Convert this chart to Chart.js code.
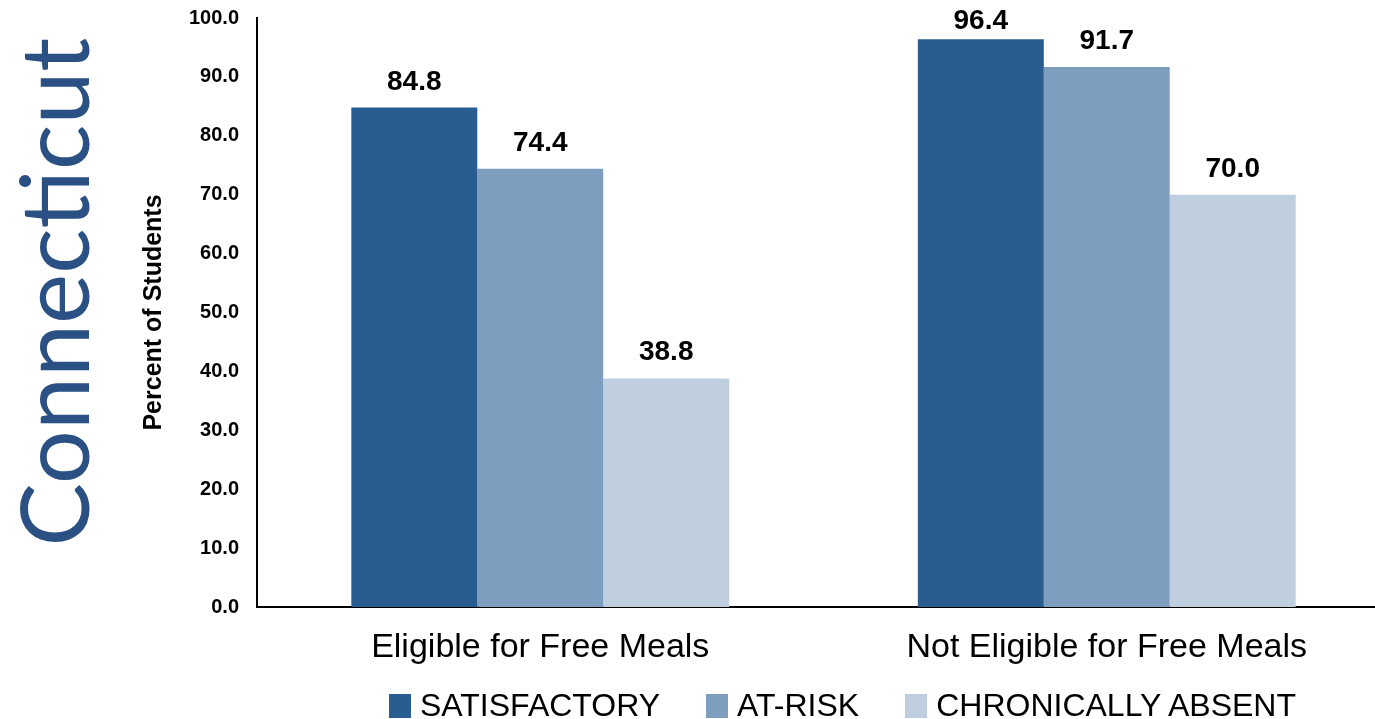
<!DOCTYPE html>
<html>
<head>
<meta charset="utf-8">
<script src="https://cdn.jsdelivr.net/npm/chart.js@4/dist/chart.umd.min.js"></script>
<style>
  html, body { margin: 0; padding: 0; background: #fff; overflow: hidden; width: 1375px; height: 719px; }
  #state {
    position: absolute; left: 52px; top: 292px;
    transform: translate(-50%, -50%) rotate(-90deg);
    font-family: Lato, "Open Sans", sans-serif; font-size: 95px; line-height: 1;
    color: #2a5084; white-space: nowrap;
  }
  #wrap { position: absolute; left: 130px; top: 0; }
  #legend {
    position: absolute; left: 389px; top: 687px;
    display: flex; align-items: center; gap: 46px;
    font-family: "Liberation Sans", Arial, sans-serif; font-size: 32px; color: #000;
  }
  #legend span.item { display: flex; align-items: center; }
  #legend i { display: inline-block; width: 22px; height: 24px; margin-right: 9px; }
</style>
</head>
<body>
<div id="state">Connecticut</div>
<div id="wrap"><canvas id="myChart" width="1270" height="719"></canvas></div>
<div id="legend"></div>
<script>
// data
const categories = ['Eligible for Free Meals', 'Not Eligible for Free Meals'];
const seriesNames = ['SATISFACTORY', 'AT-RISK', 'CHRONICALLY ABSENT'];
const satisfactory = [84.8, 96.4];
const atRisk = [74.4, 91.7];
const chronicallyAbsent = [38.8, 70.0];
const yMin = 0, yMax = 100, yStep = 10;

const colors = ['#2a5d8f', '#7d9ebf', '#bfcfdf'];
const font = '"Liberation Sans", Arial, sans-serif';

// value labels above bars (kept below the top edge of the canvas)
const valueLabels = {
  id: 'valueLabels',
  afterDatasetsDraw(chart) {
    const ctx = chart.ctx;
    ctx.save();
    ctx.font = 'bold 28px ' + font;
    ctx.fillStyle = '#000';
    ctx.textAlign = 'center';
    ctx.textBaseline = 'alphabetic';
    chart.data.datasets.forEach((ds, i) => {
      chart.getDatasetMeta(i).data.forEach((bar, j) => {
        ctx.fillText(ds.data[j].toFixed(1), bar.x, Math.max(bar.y - 18, 29));
      });
    });
    ctx.restore();
  }
};

const seriesData = [satisfactory, atRisk, chronicallyAbsent];

const chart = new Chart(document.getElementById('myChart'), {
  type: 'bar',
  data: {
    labels: categories,
    datasets: seriesNames.map((name, i) => ({
      label: name,
      data: seriesData[i],
      backgroundColor: colors[i],
      borderWidth: 0,
      categoryPercentage: 0.667,
      barPercentage: 1.0
    }))
  },
  options: {
    responsive: false,
    animation: false,
    layout: { padding: { top: 18, right: 10, bottom: 52, left: 0 } },
    plugins: {
      legend: { display: false },
      tooltip: { enabled: false }
    },
    scales: {
      x: {
        afterFit(scale) { scale.height = 60; scale.paddingLeft = 0; scale.paddingRight = 0; },
        grid: { display: false, drawTicks: false },
        border: { display: true, color: '#000', width: 2 },
        ticks: { color: '#000', padding: 20, font: { family: font, size: 34 } }
      },
      y: {
        min: yMin,
        max: yMax,
        afterFit(scale) { scale.width = 127; scale.paddingTop = 0; scale.paddingBottom = 0; },
        grid: { display: false, drawTicks: false },
        border: { display: true, color: '#000', width: 2 },
        ticks: {
          stepSize: yStep,
          color: '#000',
          padding: 18,
          font: { family: font, size: 20, weight: 'bold' },
          callback: v => v.toFixed(1)
        },
        title: {
          display: true,
          text: 'Percent of Students',
          color: '#000',
          padding: { top: 9, bottom: 0 },
          font: { family: font, size: 25, weight: 'bold' }
        }
      }
    }
  },
  plugins: [valueLabels]
});

// legend below the chart
const legend = document.getElementById('legend');
seriesNames.forEach((name, i) => {
  const item = document.createElement('span');
  item.className = 'item';
  item.innerHTML = '<i style="background:' + colors[i] + '"></i>' + name;
  legend.appendChild(item);
});
</script>
</body>
</html>
